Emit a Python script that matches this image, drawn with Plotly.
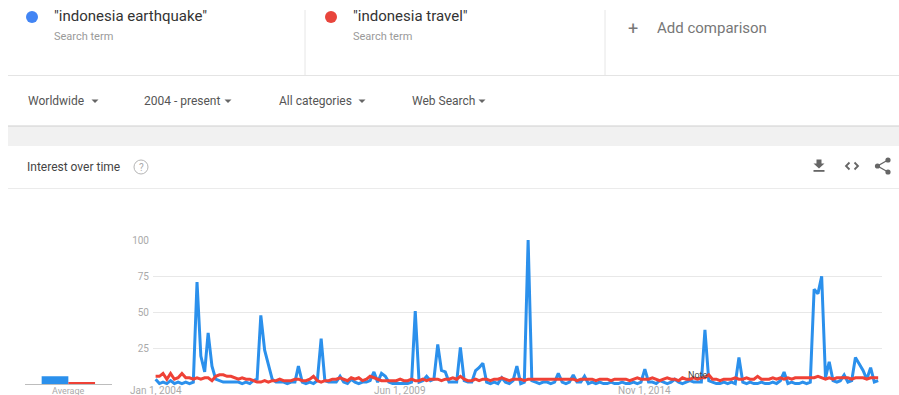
import plotly.graph_objects as go
import pandas as pd

# ---------------- data ----------------
start_month = "2004-01-01"
earthquake = [
    4, 1, 2, 1, 3, 1, 2, 1, 2, 1, 2, 71,        # 2004
    20, 9, 36, 13, 4, 3, 2, 2, 2, 2, 2, 1,      # 2005
    2, 1, 3, 4, 48, 24, 14, 4, 2, 2, 2, 1,      # 2006
    2, 2, 13, 2, 1, 2, 1, 3, 32, 3, 2, 2,       # 2007
    2, 6, 2, 1, 4, 2, 1, 2, 2, 3, 9, 2,         # 2008
    8, 6, 2, 1, 1, 1, 1, 1, 2, 51, 2, 3,        # 2009
    6, 3, 4, 28, 10, 9, 2, 2, 2, 26, 3, 2,      # 2010
    2, 10, 12, 15, 2, 1, 2, 1, 5, 2, 1, 3,      # 2011
    13, 1, 2, 100, 3, 2, 1, 2, 2, 1, 2, 8,      # 2012
    2, 1, 2, 7, 2, 2, 6, 1, 2, 1, 2, 1,         # 2013
    1, 2, 1, 1, 2, 1, 1, 2, 1, 2, 11, 2,        # 2014
    2, 1, 3, 2, 1, 2, 4, 2, 1, 2, 3, 2,         # 2015
    2, 2, 38, 3, 2, 1, 1, 2, 1, 2, 1, 19,       # 2016
    2, 1, 2, 1, 1, 2, 1, 1, 2, 1, 3, 9,         # 2017
    1, 2, 1, 1, 2, 1, 2, 66, 63, 75, 5, 16,     # 2018
    3, 2, 3, 7, 2, 3, 19, 14, 10, 4, 12, 2,     # 2019
    3,                                          # 2020
]
travel = [
    6, 6, 8, 4, 8, 4, 5, 8, 5, 5, 4, 5,         # 2004
    4, 5, 5, 3, 6, 7, 7, 6, 6, 5, 4, 5,         # 2005
    4, 4, 3, 2, 2, 3, 2, 3, 3, 4, 3, 3,         # 2006
    3, 4, 4, 3, 3, 4, 6, 3, 2, 3, 3, 4,         # 2007
    4, 5, 4, 3, 5, 4, 5, 3, 4, 6, 5, 4,         # 2008
    3, 3, 3, 3, 3, 4, 3, 3, 4, 3, 3, 4,         # 2009
    3, 4, 4, 4, 3, 4, 4, 5, 4, 6, 4, 3,         # 2010
    3, 4, 3, 4, 4, 3, 4, 4, 5, 4, 3, 4,         # 2011
    4, 4, 3, 4, 4, 4, 4, 4, 4, 4, 4, 4,         # 2012
    4, 4, 4, 4, 3, 4, 4, 4, 4, 3, 4, 4,         # 2013
    4, 3, 4, 4, 4, 4, 3, 4, 5, 4, 4, 4,         # 2014
    5, 4, 3, 4, 5, 4, 4, 3, 5, 4, 4, 5,         # 2015
    4, 5, 5, 7, 4, 4, 3, 4, 4, 4, 5, 4,         # 2016
    4, 5, 4, 4, 6, 4, 4, 4, 5, 4, 5, 4,         # 2017
    5, 4, 5, 5, 5, 5, 5, 5, 6, 5, 4, 5,         # 2018
    4, 5, 5, 5, 5, 4, 5, 5, 5, 4, 5, 5,         # 2019
    5,                                          # 2020
]
avg_positions = [0, 1]
avg_values = [6, 2]
x_tick_dates = ["2004-01-01", "2009-06-01", "2014-11-01"]
x_tick_text = ["Jan 1, 2004", "Jun 1, 2009", "Nov 1, 2014"]
y_ticks = [25, 50, 75, 100]
term_names = ['"indonesia earthquake"', '"indonesia travel"']

dates = pd.date_range(start_month, periods=len(earthquake), freq="MS")

# ---------------- helpers ----------------
W, H = 899, 395
FONT = "Roboto"
BLUE_LINE = "#2b90ec"
RED_LINE = "#ef4136"
BLUE_DOT = "#4285f4"
RED_DOT = "#e8453c"


def px(x):
    return x / W


def py(y):
    return 1 - y / H


def path(points, close=False):
    s = "M " + " L ".join(f"{px(x):.5f} {py(y):.5f}" for x, y in points)
    return s + (" Z" if close else "")


shapes = []
annotations = []


def text(x, y, t, size, color, anchor="left", xref="paper"):
    annotations.append(dict(
        x=px(x) if xref == "paper" else x, y=py(y), xref=xref, yref="paper",
        text=t, showarrow=False, xanchor=anchor, yanchor="middle",
        font=dict(family=FONT, size=size, color=color),
    ))


def hline(x0, x1, y, color, width=1):
    shapes.append(dict(type="line", xref="paper", yref="paper",
                       x0=px(x0), x1=px(x1), y0=py(y), y1=py(y),
                       line=dict(color=color, width=width)))


def vline(x, y0, y1, color, width=1):
    shapes.append(dict(type="line", xref="paper", yref="paper",
                       x0=px(x), x1=px(x), y0=py(y0), y1=py(y1),
                       line=dict(color=color, width=width)))


def circle(cx, cy, r, fill=None, stroke=None, width=1):
    shapes.append(dict(type="circle", xref="paper", yref="paper",
                       x0=px(cx - r), x1=px(cx + r), y0=py(cy + r), y1=py(cy - r),
                       fillcolor=fill if fill else "rgba(0,0,0,0)",
                       line=dict(color=stroke if stroke else "rgba(0,0,0,0)", width=width)))


def rect(x0, y0, x1, y1, fill, layer="below"):
    shapes.append(dict(type="rect", xref="paper", yref="paper",
                       x0=px(x0), x1=px(x1), y0=py(y1), y1=py(y0),
                       fillcolor=fill, line=dict(width=0), layer=layer))


def poly(points, fill=None, stroke=None, width=1, close=True):
    shapes.append(dict(type="path", xref="paper", yref="paper", path=path(points, close),
                       fillcolor=fill if fill else "rgba(0,0,0,0)",
                       line=dict(color=stroke if stroke else "rgba(0,0,0,0)", width=width)))


# ---------------- header ----------------
circle(32, 17, 6, fill=BLUE_DOT)
text(52, 16, term_names[0], 15, "#333333")
text(52, 36, "Search term", 11, "#9a9a9a")
vline(305, 10, 75, "#e6e6e6")
circle(331, 17, 6, fill=RED_DOT)
text(351, 16, term_names[1], 15, "#333333")
text(351, 36, "Search term", 11, "#9a9a9a")
vline(605, 10, 75, "#e6e6e6")
text(633, 28, "+", 18, "#777777", anchor="center")
text(655, 28, "Add comparison", 15, "#777777")
hline(8, 899, 75.5, "#e4e4e4")

# ---------------- filters ----------------
filters = [("Worldwide", 26, 95), ("2004 - present", 142, 228),
           ("All categories", 277, 362), ("Web Search", 410, 482)]
for label, xl, xa in filters:
    text(xl, 101, label, 12, "#555555")
    poly([(xa - 3.5, 99.5), (xa + 3.5, 99.5), (xa, 103)], fill="#666666")

# gray band
rect(8, 126, 899, 146, "#f1f1f1")
hline(8, 899, 126, "#cfcfcf", 1.2)

# ---------------- card header ----------------
text(25, 167, "Interest over time", 12, "#444444")
circle(141, 167, 7, stroke="#b5b5b5", width=1)
text(141, 167, "?", 10, "#aaaaaa", anchor="center")
hline(8, 899, 188.5, "#ebebeb")

# download icon
poly([(816.5, 159.5), (821.5, 159.5), (821.5, 163.5), (824.5, 163.5), (819, 168.5),
      (813.5, 163.5), (816.5, 163.5)], fill="#666666")
rect(813.5, 170, 824.5, 171.8, "#666666", layer="above")
# embed icon
poly([(849.5, 162.5), (846, 166), (849.5, 169.5)], stroke="#666666", width=1.8, close=False)
poly([(854.5, 162.5), (858, 166), (854.5, 169.5)], stroke="#666666", width=1.8, close=False)
# share icon
poly([(888, 160), (877.5, 166), (888, 172)], stroke="#666666", width=1.3, close=False)
circle(888, 160, 2.6, fill="#666666")
circle(877.5, 166, 2.6, fill="#666666")
circle(888, 172, 2.6, fill="#666666")

# ---------------- average block ----------------
hline(25, 112, 384.5, "#bdbdbd")
text(68, 390.5, "Average", 9, "#aaaaaa", anchor="center")

# note marker
text(697, 375, "Note", 9, "#444444", anchor="center")

# x-axis tick labels placed through the date axis scale
for d, t in zip(x_tick_dates, x_tick_text):
    text(d, 390.5, t, 10, "#aaaaaa", anchor="center", xref="x")

# ---------------- traces ----------------
fig = go.Figure()
fig.add_trace(go.Scatter(x=dates, y=earthquake, mode="lines", name=term_names[0],
                         line=dict(color=BLUE_LINE, width=3), xaxis="x", yaxis="y",
                         hoverinfo="skip"))
fig.add_trace(go.Scatter(x=dates, y=travel, mode="lines", name=term_names[1],
                         line=dict(color=RED_LINE, width=3), xaxis="x", yaxis="y",
                         hoverinfo="skip"))
fig.add_trace(go.Bar(x=avg_positions, y=avg_values, width=1,
                     marker=dict(color=[BLUE_LINE, RED_LINE], line=dict(width=0)),
                     xaxis="x2", yaxis="y2", hoverinfo="skip"))

y_range = [-1.5, 100]
y_dom = [py(387.2), py(240)]

fig.update_layout(
    template="none",
    width=W, height=H, autosize=False,
    margin=dict(l=0, r=0, t=0, b=0, pad=0),
    paper_bgcolor="white", plot_bgcolor="white",
    showlegend=False,
    font=dict(family=FONT),
    xaxis=dict(domain=[px(153), px(882)], type="date",
               range=["2003-12-11", "2020-02-01"], automargin=False,
               showgrid=False, zeroline=False, showline=False, ticks="",
               showticklabels=False, tickvals=x_tick_dates),
    yaxis=dict(domain=y_dom, range=y_range, tickvals=y_ticks, automargin=False,
               showgrid=True, gridcolor="#e8e8e8", gridwidth=1,
               zeroline=False, showline=False, ticks="", ticklabelstandoff=3,
               tickfont=dict(family=FONT, size=10, color="#aaaaaa")),
    xaxis2=dict(domain=[px(25), px(112)], range=[-1.124, 2.135], visible=False,
                anchor="y2", automargin=False),
    yaxis2=dict(domain=y_dom, range=y_range, visible=False, anchor="x2",
                automargin=False),
    shapes=shapes,
    annotations=annotations,
)

fig.write_html(
    "out.html",
    config={"displayModeBar": False},
    post_script="document.body.style.margin='0';document.body.style.overflow='hidden';",
)
